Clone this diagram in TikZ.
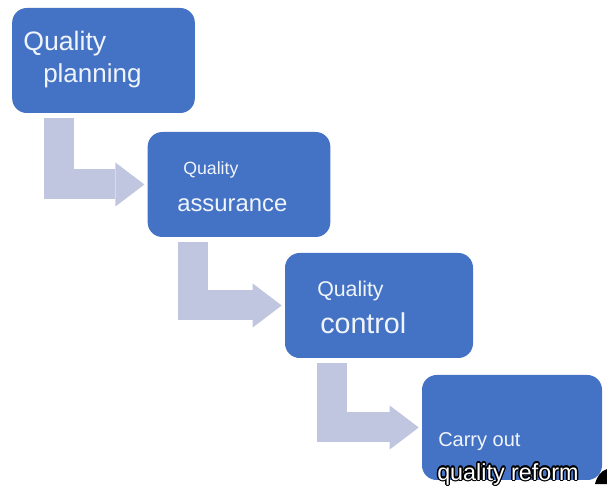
\documentclass[tikz,border=0pt]{standalone}
\usepackage{fontspec}
\setmainfont{Liberation Sans}
\usepackage{contour}
\contourlength{1pt}
\usetikzlibrary{arrows.meta}

\definecolor{stepblue}{RGB}{68,114,196}
\definecolor{flowgrey}{RGB}{193,198,224}
\definecolor{steptext}{RGB}{240,244,251}

\tikzset{
  stepbox/.style={fill=stepblue, rounded corners=11pt, minimum width=137pt, minimum height=78.75pt, inner sep=0pt},
  steplabel/.style={anchor=base west, inner sep=0pt, text=steptext},
  flow/.style={draw=flowgrey, line width=22.5pt, shorten <=3.75pt, shorten >=2.25pt,
    -{Triangle[length=21.75pt, width=33pt, line width=0pt, color=flowgrey]}}
}

\begin{document}
\begin{tikzpicture}[x=0.75pt,y=0.75pt,yscale=-1,xscale=1]
\useasboundingbox (0,0) rectangle (607,491);

% Boxes
\node [stepbox] (plan) at (103.5,60.5) {};
\node [stepbox] (assure) at (239,184.5) {};
\node [stepbox, minimum width=141pt] (control) at (379,305.5) {};
\node [stepbox, minimum width=135pt] (reform) at (512,427.5) {};

% Bent arrows between the boxes
\draw [flow] ([xshift=35.25pt]plan.south west) |- (assure.west);
\draw [flow] ([xshift=34.5pt]assure.south west) |- (control.west);
\draw [flow] ([xshift=35.25pt]control.south west) |- (reform.west);

% Text Nodes
\node [steplabel, font=\fontsize{20}{24}\selectfont] (planA) at (23,51) {Quality};
\node [steplabel, font=\fontsize{19.5}{24}\selectfont] (planB) at (43,83) {planning};

\node [steplabel, font=\fontsize{13.3}{16}\selectfont] (assureA) at (183,175) {Quality};
\node [steplabel, font=\fontsize{17.9}{22}\selectfont] (assureB) at (177,212) {assurance};

\node [steplabel, font=\fontsize{16}{19}\selectfont] (controlA) at (317,297) {Quality};
\node [steplabel, font=\fontsize{21.5}{26}\selectfont] (controlB) at (320,334) {control};

\node [steplabel, font=\fontsize{15}{18}\selectfont] (reformA) at (438,447) {Carry out};
\node [steplabel, font=\fontsize{17.5}{21}\selectfont, text=white] (reformB) at (437,480) {\contour{black}{quality reform}};

% dark corner mark
\fill [black] (595,484) .. controls (597,476) and (601,471) .. (607,469) -- (607,484) -- cycle;

\end{tikzpicture}
\end{document}
